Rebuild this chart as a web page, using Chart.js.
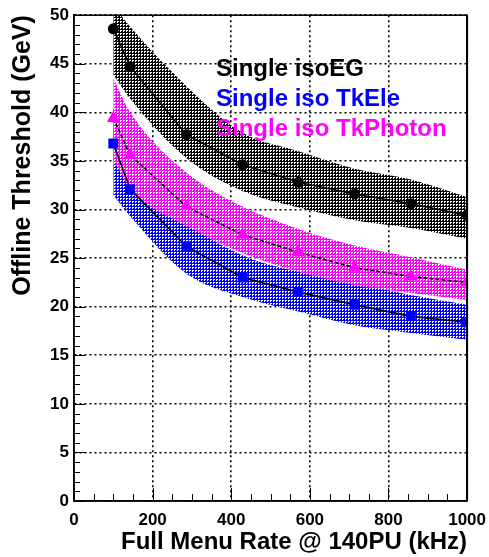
<!DOCTYPE html>
<html>
<head>
<meta charset="utf-8">
<script src="https://cdn.jsdelivr.net/npm/chart.js@4.4.0/dist/chart.umd.min.js"></script>
<style>
    html, body { margin: 0; padding: 0; background: #fff; }
    #wrap { width: 489px; height: 557px; }
</style>
</head>
<body>
<div id="wrap"><canvas id="thrChart" width="489" height="557"></canvas></div>
<script>
// Full menu rate (kHz)
const rates = [100, 143, 286, 429, 571, 714, 857, 1000];

// Single isoEG
const egThr = [48.6, 44.7, 37.7, 34.6, 32.8, 31.6, 30.6, 29.4];
const egUp  = [51.0, 48.8, 42.7, 37.9, 36.0, 34.2, 33.1, 31.3];
const egLow = [43.9, 41.4, 35.3, 31.9, 30.2, 28.9, 28.1, 27.0];

// Single iso TkEle
const eleThr = [36.8, 32.1, 26.2, 23.0, 21.5, 20.2, 19.0, 18.4];
const eleUp  = [40.5, 35.0, 28.8, 25.3, 23.6, 22.4, 21.2, 20.2];
const eleLow = [31.5, 29.3, 23.4, 21.0, 19.5, 18.1, 17.3, 16.6];

// Single iso TkPhoton
const phoThr = [39.4, 35.6, 30.3, 27.4, 25.6, 24.0, 23.1, 22.5];
const phoUp  = [43.5, 40.0, 33.8, 30.3, 28.0, 26.3, 25.1, 23.8];
const phoLow = [35.1, 32.2, 28.3, 25.5, 23.6, 22.2, 21.4, 20.7];

const seriesNames = ['Single isoEG', 'Single iso TkEle', 'Single iso TkPhoton'];
const seriesColors = ['#000000', '#0000ff', '#ff00ff'];

const xTitle = 'Full Menu Rate @ 140PU (kHz)';
const yTitle = 'Offline Threshold (GeV)';

Chart.defaults.font.family = "'Liberation Sans', Arial, Helvetica, sans-serif";
Chart.defaults.color = '#000';

function pts(ys) {
    return rates.map(function (x, i) { return {x: x, y: ys[i]}; });
}

// dotted fill like the ROOT hatch
function makePattern(color) {
    const c = document.createElement('canvas');
    c.width = 3; c.height = 3;
    const g = c.getContext('2d');
    g.fillStyle = color;
    g.fillRect(0, 0, 3, 3);
    g.fillStyle = '#ffffff';
    g.fillRect(0, 0, 2, 1);
    g.fillRect(0, 1, 1, 1);
    return g.createPattern(c, 'repeat');
}

function bandEdge(ys, order) {
    return {
        data: pts(ys),
        borderWidth: 0,
        pointRadius: 0,
        showLine: true,
        fill: false,
        cubicInterpolationMode: 'monotone',
        order: order
    };
}

function bandFill(ys, target, color, order) {
    return {
        data: pts(ys),
        borderWidth: 0,
        pointRadius: 0,
        showLine: true,
        fill: target,
        backgroundColor: makePattern(color),
        cubicInterpolationMode: 'monotone',
        order: order
    };
}

function seriesLine(ys, color, style, radius, dash, order) {
    return {
        data: pts(ys),
        borderColor: '#000',
        borderWidth: 1.6,
        borderDash: dash,
        pointStyle: style,
        pointRadius: radius,
        pointBackgroundColor: color,
        pointBorderColor: color,
        pointBorderWidth: 0,
        fill: false,
        tension: 0,
        order: order
    };
}

// frame, inner ticks and text legend
const frameAndTicks = {
    id: 'frameAndTicks',
    afterDatasetsDraw: function (chart) {
        const ctx = chart.ctx;
        const a = chart.chartArea;
        const xs = chart.scales.x, ys = chart.scales.y;
        ctx.save();
        ctx.strokeStyle = '#000';
        ctx.lineWidth = 1;
        ctx.beginPath();
        for (let v = 0; v <= 50; v += 1) {
            const py = Math.round(ys.getPixelForValue(v)) + 0.5;
            const len = (v % 5 === 0) ? 11 : 6;
            ctx.moveTo(a.left, py);
            ctx.lineTo(a.left + len, py);
        }
        for (let v = 0; v <= 1000; v += 50) {
            const px = Math.round(xs.getPixelForValue(v)) + 0.5;
            const len = (v % 200 === 0) ? 13 : 7;
            ctx.moveTo(px, a.bottom);
            ctx.lineTo(px, a.bottom - len);
        }
        ctx.stroke();
        ctx.lineWidth = 1.5;
        ctx.strokeRect(a.left, a.top, a.right - a.left, a.bottom - a.top);
        ctx.lineWidth = 2;
        ctx.beginPath();
        ctx.moveTo(a.right, a.top);
        ctx.lineTo(a.right, a.bottom);
        ctx.stroke();

        // legend
        ctx.font = "bold 24px 'Liberation Sans', Arial, sans-serif";
        ctx.textAlign = 'left';
        ctx.textBaseline = 'alphabetic';
        for (let i = 0; i < seriesNames.length; i++) {
            ctx.fillStyle = seriesColors[i];
            ctx.fillText(seriesNames[i], 216, 76 + i * 30);
        }
        ctx.restore();
    }
};

const ctx = document.getElementById('thrChart').getContext('2d');
const thrChart = new Chart(ctx, {
    type: 'line',
    data: {
        datasets: [
            bandEdge(egUp, 12),
            bandFill(egLow, 0, seriesColors[0], 12),
            bandEdge(eleUp, 11),
            bandFill(eleLow, 2, seriesColors[1], 11),
            bandEdge(phoUp, 10),
            bandFill(phoLow, 4, seriesColors[2], 10),
            seriesLine(egThr, seriesColors[0], 'circle', 5.5, [], 3),
            seriesLine(eleThr, seriesColors[1], 'rect', 7, [], 2),
            seriesLine(phoThr, seriesColors[2], 'triangle', 7.5, [4, 2], 1)
        ]
    },
    options: {
        responsive: false,
        animation: false,
        layout: { padding: { top: 15, right: 21, left: 0, bottom: 0 } },
        plugins: {
            legend: { display: false },
            tooltip: { enabled: false },
            filler: { drawTime: 'beforeDatasetsDraw' }
        },
        scales: {
            x: {
                type: 'linear',
                min: 0,
                max: 1000,
                afterFit: function (scale) { scale.height = 56; },
                ticks: {
                    stepSize: 200,
                    padding: 3,
                    font: { size: 17, weight: 'bold' },
                    callback: function (v) { return String(v); }
                },
                grid: { color: '#000', lineWidth: 1.6, drawTicks: true, tickLength: 6, tickColor: 'rgba(0,0,0,0)' },
                border: { display: true, color: '#000', width: 1.5, dash: [2, 3] },
                title: {
                    display: true,
                    text: xTitle,
                    align: 'end',
                    font: { size: 24, weight: 'bold' },
                    padding: { top: 0, bottom: 0 }
                }
            },
            y: {
                min: 0,
                max: 50,
                afterFit: function (scale) { scale.width = 74; },
                ticks: {
                    stepSize: 5,
                    padding: 5,
                    font: { size: 17, weight: 'bold' }
                },
                grid: { color: '#000', lineWidth: 1.6, drawTicks: false },
                border: { display: true, color: '#000', width: 1.5, dash: [2, 3] },
                title: {
                    display: true,
                    text: yTitle,
                    align: 'end',
                    font: { size: 25, weight: 'bold' },
                    padding: { top: 8, bottom: 0 }
                }
            }
        }
    },
    plugins: [frameAndTicks]
});
</script>
</body>
</html>
